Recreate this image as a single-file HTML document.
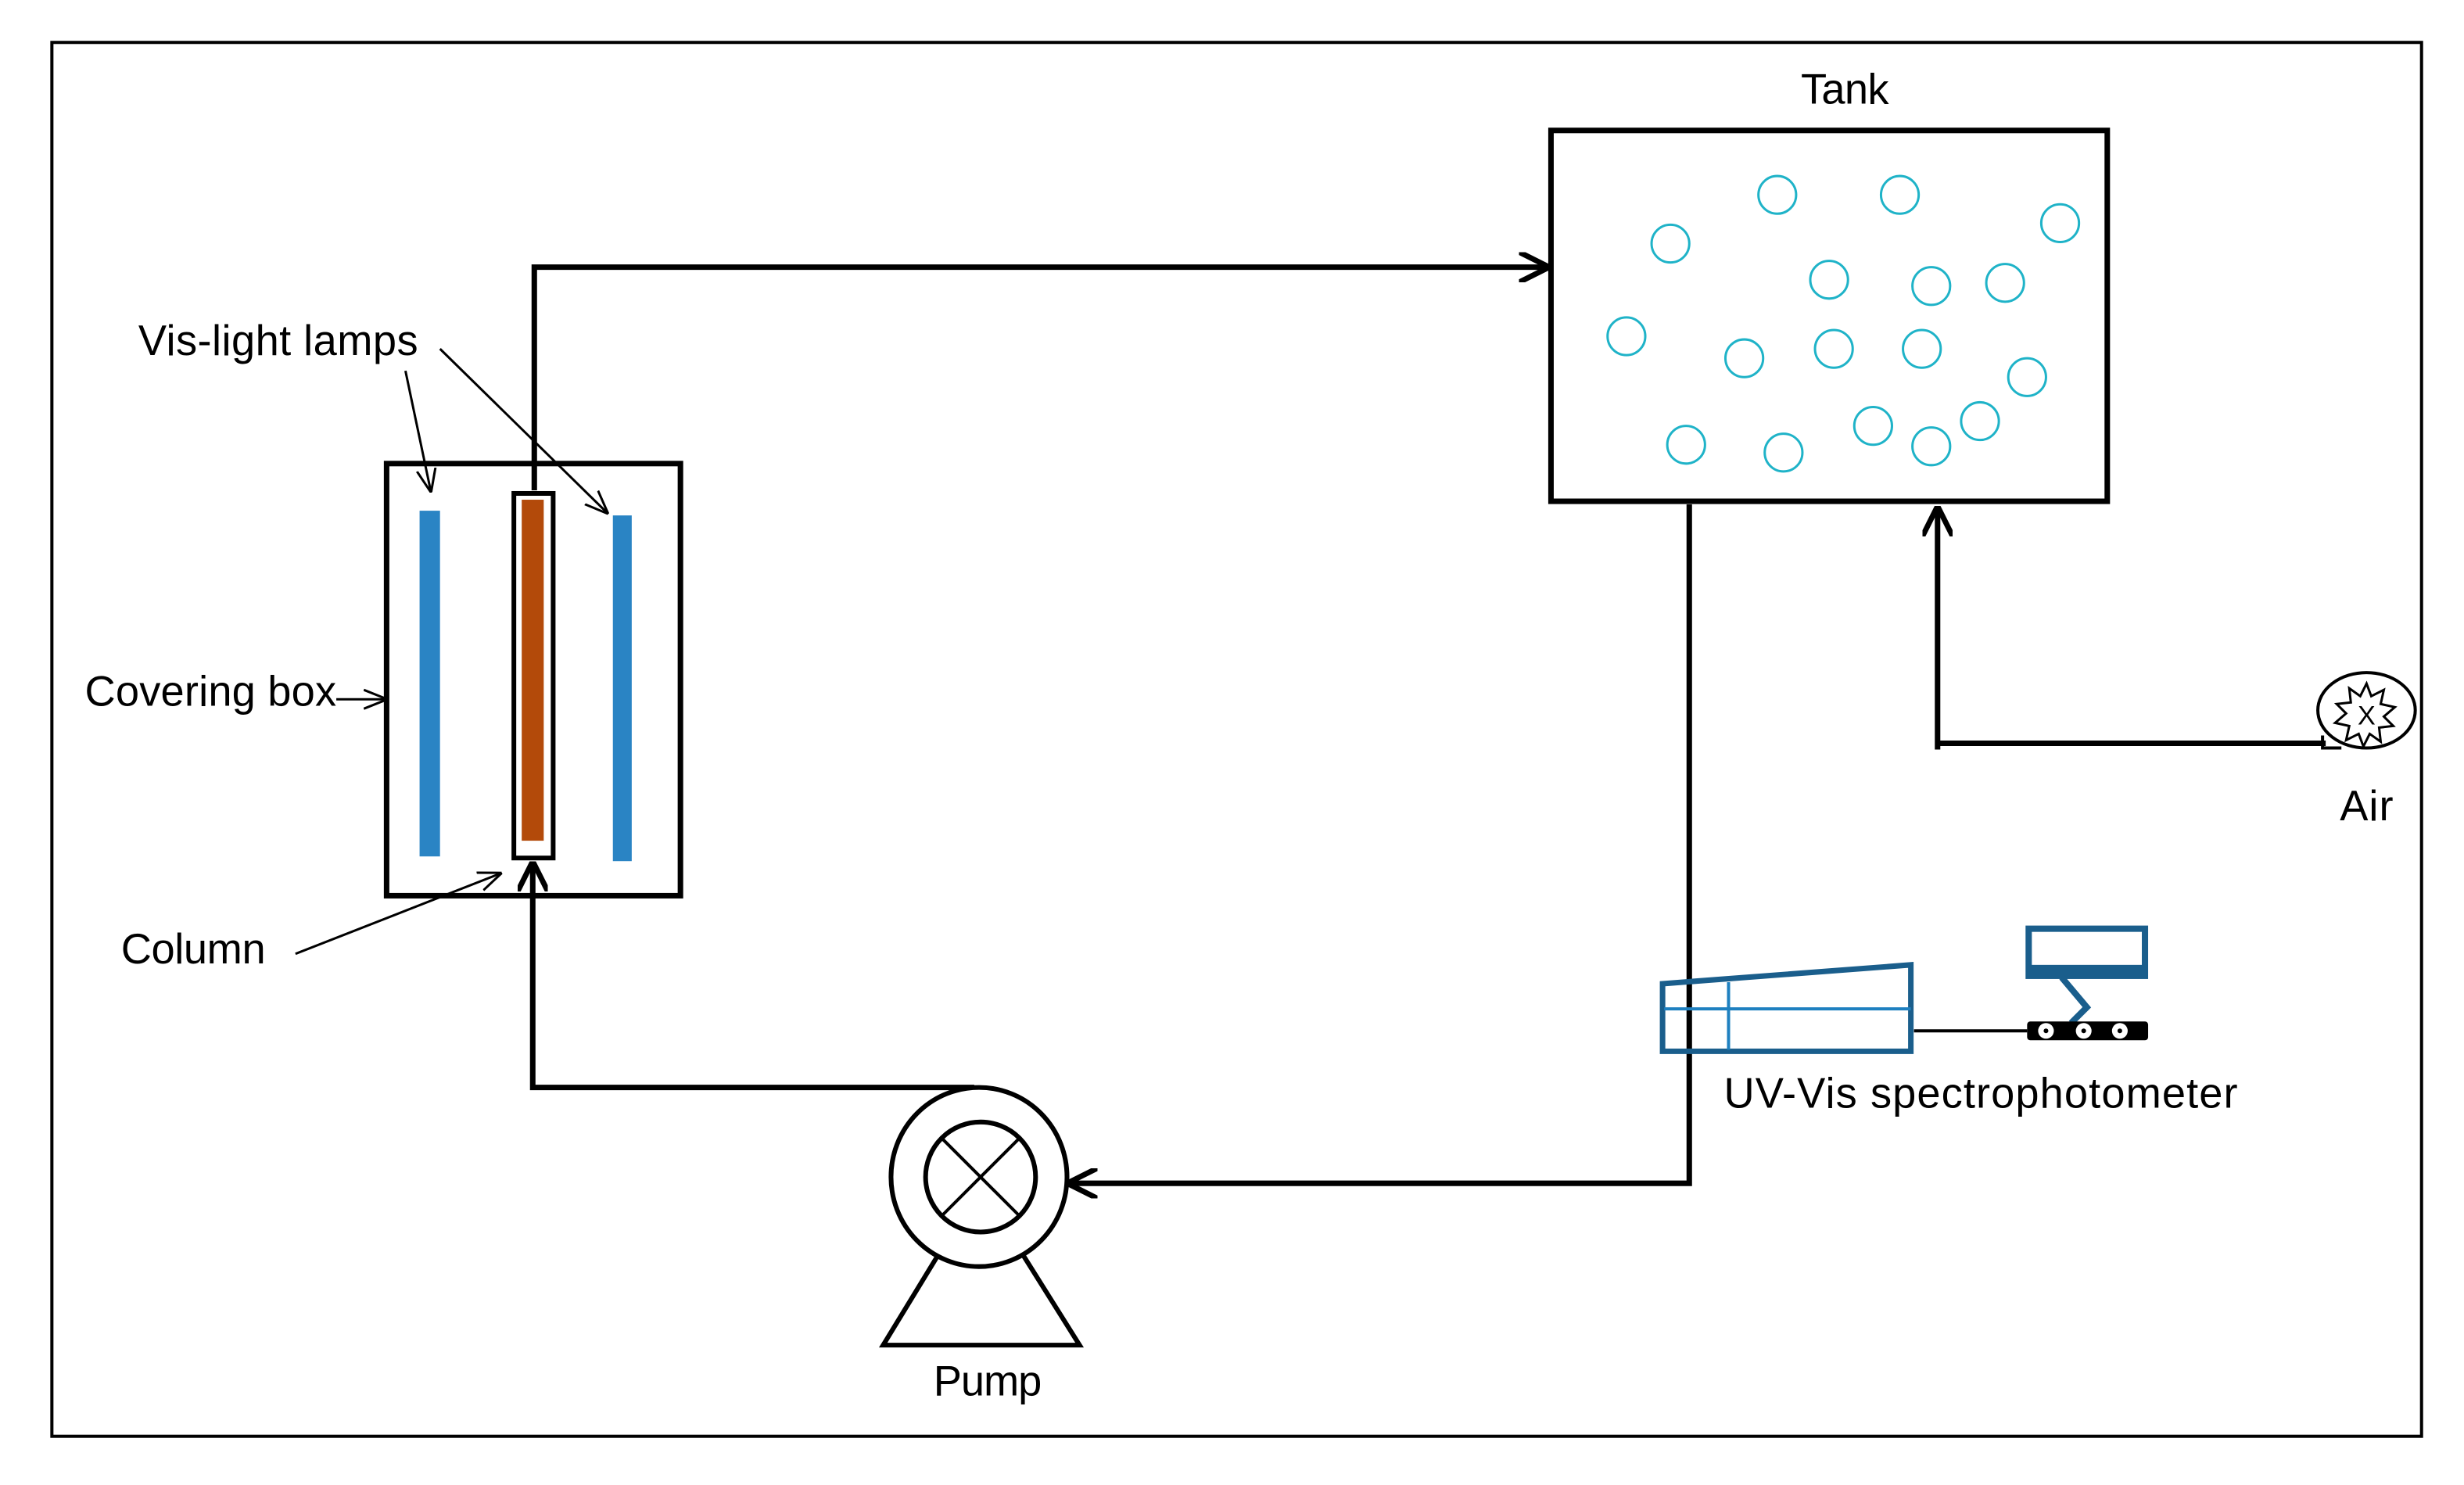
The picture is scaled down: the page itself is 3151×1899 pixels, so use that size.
<!DOCTYPE html>
<html><head><style>html,body{margin:0;padding:0;background:#fff}svg{display:block}</style></head><body>
<svg width="3151" height="1899" viewBox="0 0 1568 945" xmlns="http://www.w3.org/2000/svg" font-family="Liberation Sans, sans-serif" font-size="27">
<defs>
<marker id="ah" viewBox="0 0 10 10" refX="9" refY="5" markerWidth="5.5" markerHeight="5.5" orient="auto" markerUnits="strokeWidth"><path d="M0,0 L10,5 L0,10" fill="none" stroke="#000" stroke-width="1.8"/></marker>
<marker id="sa" viewBox="0 0 10 10" refX="9" refY="5" markerWidth="10" markerHeight="10" orient="auto" markerUnits="strokeWidth"><path d="M0,1 L10,5 L0,9" fill="none" stroke="#000" stroke-width="1"/></marker>
</defs>
<rect x="33" y="27" width="1508" height="887" fill="none" stroke="#000" stroke-width="2"/>
<text x="1174" y="66" text-anchor="middle" textLength="56">Tank</text>
<rect x="987" y="83" width="354" height="236" fill="none" stroke="#000" stroke-width="3.5"/>
<g fill="none" stroke="#1fb3c8" stroke-width="1.5">
<circle cx="1063" cy="155" r="12"/><circle cx="1131" cy="124" r="12"/><circle cx="1209" cy="124" r="12"/><circle cx="1311" cy="142" r="12"/><circle cx="1164" cy="178" r="12"/><circle cx="1229" cy="182" r="12"/><circle cx="1276" cy="180" r="12"/><circle cx="1035" cy="214" r="12"/><circle cx="1110" cy="228" r="12"/><circle cx="1167" cy="222" r="12"/><circle cx="1223" cy="222" r="12"/><circle cx="1290" cy="240" r="12"/><circle cx="1073" cy="283" r="12"/><circle cx="1135" cy="288" r="12"/><circle cx="1192" cy="271" r="12"/><circle cx="1229" cy="284" r="12"/><circle cx="1260" cy="268" r="12"/>
</g>
<g fill="none" stroke="#000" stroke-width="3.5">
<path d="M340,312 V170 H984" marker-end="url(#ah)"/>
<path d="M620,692 H339 V550" marker-end="url(#ah)"/>
<path d="M1075,321 V753 H681" marker-end="url(#ah)"/>
<path d="M1233,477 V324" marker-end="url(#ah)"/>
<path d="M1233,473 H1480"/>
<rect x="246" y="295" width="187" height="275"/>
</g>
<rect x="267" y="325" width="13" height="220" fill="#2a84c4"/>
<rect x="390" y="328" width="12" height="220" fill="#2a84c4"/>
<rect x="327" y="314" width="25" height="232" fill="#fff" stroke="#000" stroke-width="3"/>
<rect x="332" y="318" width="14" height="217" fill="#b34a0a"/>
<g fill="none" stroke="#000" stroke-width="3">
<path d="M598,797 L562,856 H687 L650,797"/>
<ellipse cx="623" cy="749" rx="56" ry="57" fill="#fff"/>
<circle cx="624" cy="749" r="35"/>
<path d="M599,724 L649,774 M649,724 L599,774" stroke-width="2"/>
</g>
<text x="594" y="888" textLength="69">Pump</text>
<g fill="none" stroke="#000" stroke-width="2">
<ellipse cx="1506" cy="452" rx="31" ry="24"/>
<path d="M1478,468 V476 H1490"/>
<path d="M1506,435 l3,8 8,-4 -2,9 9,2 -7,6 6,6 -9,1 1,9 -7,-5 -4,8 -3,-8 -8,4 2,-9 -9,-2 7,-6 -6,-6 9,-1 -1,-9 7,5z" stroke-width="1.5"/>
</g>
<text x="1506" y="461" text-anchor="middle" font-size="17">X</text>
<text x="1489" y="522" textLength="34">Air</text>
<path d="M1058,626 L1216,614 V669 H1058 Z" fill="none" stroke="#1a5e8c" stroke-width="3.5"/>
<path d="M1059,642 H1216 M1100,625 V668" stroke="#1e80c0" stroke-width="2"/>
<line x1="1218" y1="656" x2="1290" y2="656" stroke="#000" stroke-width="2"/>
<rect x="1291" y="591" width="74" height="30" fill="none" stroke="#1a5e8c" stroke-width="4"/>
<rect x="1291" y="614" width="74" height="8" fill="#1a5e8c"/>
<path d="M1312,622 L1328,641 L1318,651" fill="none" stroke="#1a5e8c" stroke-width="4"/>
<rect x="1290" y="650" width="77" height="12" rx="2" fill="#000"/>
<g fill="#fff"><ellipse cx="1302" cy="656" rx="5" ry="5"/><ellipse cx="1326" cy="656" rx="5" ry="5"/><ellipse cx="1349" cy="656" rx="5" ry="5"/></g>
<g fill="#000"><circle cx="1302" cy="656" r="1.5"/><circle cx="1326" cy="656" r="1.5"/><circle cx="1349" cy="656" r="1.5"/></g>
<text x="1097" y="705" textLength="327">UV-Vis spectrophotometer</text>
<text x="88" y="226" textLength="178">Vis-light lamps</text>
<g stroke="#000" stroke-width="1.5" fill="none">
<path d="M258,236 L274,312" marker-end="url(#sa)"/>
<path d="M280,222 L386,326" marker-end="url(#sa)"/>
<path d="M214,445 L245,445" marker-end="url(#sa)"/>
<path d="M188,607 L318,556" marker-end="url(#sa)"/>
</g>
<text x="54" y="449" textLength="160">Covering box</text>
<text x="77" y="613" textLength="92">Column</text>
</svg>
</body></html>
